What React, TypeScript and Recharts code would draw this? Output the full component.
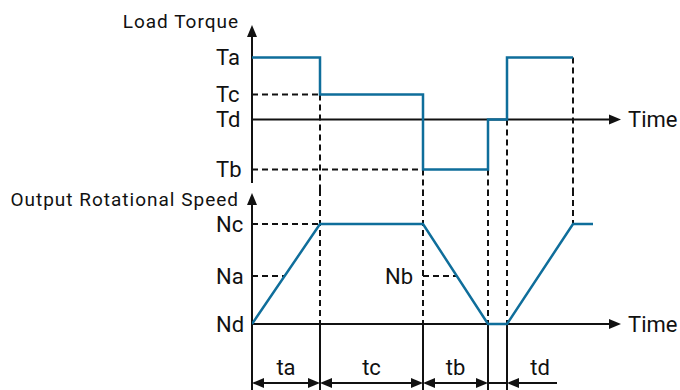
import { LineChart, Line, XAxis, YAxis, ReferenceLine } from 'recharts';

const BLUE = '#0f6e9b';
const INK = '#111111';
const FONT = 'Roboto, sans-serif';

// time marks, shared by both panels
const edges = [0, 68, 171, 236, 255, 321];
const periodNames = ['ta', 'tc', 'tb', 'td'];
const periodSpans = [[0, 68], [68, 171], [171, 236], [255, 321]];

// load torque (step profile)
const torqueNames = ['Ta', 'Tc', 'Td', 'Tb'];
const torqueLevels = [62, 25, 0, -50];
const torqueTimes = [0, 68, 171, 236, 255, 321];
const torqueValues = [62, 25, -50, 0, 62, 62];

// output rotational speed (trapezoid profile)
const speedNames = ['Nc', 'Na', 'Nd'];
const speedLevels = [100, 48, 0];
const speedTimes = [0, 68, 171, 236, 255, 321, 341];
const speedValues = [0, 100, 100, 0, 0, 100, 100];
const nbLevel = 48;

const torqueData = torqueTimes.map((t, i) => ({ t, T: torqueValues[i] }));
const speedData = speedTimes.map((t, i) => ({ t, N: speedValues[i] }));

const [Ta, Tc, Td, Tb] = torqueLevels;
const [Nc, Na, Nd] = speedLevels;

// where the speed ramp between points i and i+1 reaches a level
function crossAt(level: number, i: number) {
  const t0 = speedTimes[i], t1 = speedTimes[i + 1];
  const v0 = speedValues[i], v1 = speedValues[i + 1];
  return t0 + ((level - v0) / (v1 - v0)) * (t1 - t0);
}

const X_DOMAIN = [0, 428];
const T_DOMAIN = [-70.5, 119.5];
const N_DOMAIN = [-66, 144];
const N_SPLIT = 134; // where the lower panel meets the upper one
const TIME_TIP = 369;
const DIM_ROW = -59;

function arrowShape(opts: { head1?: boolean; head2?: boolean; title?: string; titleDy?: number }) {
  return (p: any) => {
    const { x1, y1, x2, y2 } = p;
    const len = 12;
    const half = 5;
    const dx = x2 - x1;
    const dy = y2 - y1;
    const d = Math.hypot(dx, dy) || 1;
    const ux = dx / d;
    const uy = dy / d;
    const head = (tx: number, ty: number, sx: number, sy: number) => {
      const bx = tx - sx * len;
      const by = ty - sy * len;
      return `${tx},${ty} ${bx - sy * half},${by + sx * half} ${bx + sy * half},${by - sx * half}`;
    };
    const ax1 = opts.head1 ? x1 + ux * (len - 1) : x1;
    const ay1 = opts.head1 ? y1 + uy * (len - 1) : y1;
    const ax2 = opts.head2 ? x2 - ux * (len - 1) : x2;
    const ay2 = opts.head2 ? y2 - uy * (len - 1) : y2;
    return (
      <g>
        <line x1={ax1} y1={ay1} x2={ax2} y2={ay2} stroke={INK} strokeWidth={2} />
        {opts.head1 && <polygon points={head(x1, y1, -ux, -uy)} fill={INK} />}
        {opts.head2 && <polygon points={head(x2, y2, ux, uy)} fill={INK} />}
        {opts.title && (
          <text
            x={x2 - 13}
            y={y2 + (opts.titleDy || 0)}
            textAnchor="end"
            fontSize={19}
            letterSpacing={1}
            fontFamily={FONT}
            fill={INK}
          >
            {opts.title}
          </text>
        )}
      </g>
    );
  };
}

const dashed = { stroke: INK, strokeWidth: 2, strokeDasharray: '6 4', ifOverflow: 'visible' as const };
const solid = { stroke: INK, strokeWidth: 2, ifOverflow: 'visible' as const };
const bigText = { fontSize: 22, fill: INK, fontFamily: FONT };
const timeLabel = { value: 'Time', position: 'right' as const, offset: 7, ...bigText };

const yTick = (names: string[], levels: number[]) => ({
  ticks: levels,
  tickFormatter: (v: number) => names[levels.indexOf(v)],
  axisLine: false,
  tickLine: false,
  tickSize: 0,
  tickMargin: 36,
  interval: 0 as const,
  tick: { textAnchor: 'start', ...bigText },
});

export default function App() {
  return (
    <div style={{ position: 'absolute', left: 0, top: 0, width: 680, height: 390, background: '#fff' }}>
      <div style={{ position: 'absolute', left: 0, top: 0 }}>
        <LineChart width={680} height={190} data={torqueData} margin={{ top: 0, right: 0, bottom: 0, left: 0 }}>
          <XAxis type="number" dataKey="t" domain={X_DOMAIN} allowDataOverflow hide />
          <YAxis type="number" width={252} domain={T_DOMAIN} allowDataOverflow {...yTick(torqueNames, torqueLevels)} />
          <ReferenceLine segment={[{ x: 0, y: Tc }, { x: edges[1], y: Tc }]} {...dashed} />
          <ReferenceLine segment={[{ x: 0, y: Tb }, { x: edges[2], y: Tb }]} {...dashed} />
          <ReferenceLine segment={[{ x: edges[1], y: Tc }, { x: edges[1], y: T_DOMAIN[0] }]} {...dashed} />
          <ReferenceLine segment={[{ x: edges[2], y: Tb }, { x: edges[2], y: T_DOMAIN[0] }]} {...dashed} />
          <ReferenceLine segment={[{ x: edges[3], y: Tb }, { x: edges[3], y: T_DOMAIN[0] }]} {...dashed} />
          <ReferenceLine segment={[{ x: edges[4], y: Td }, { x: edges[4], y: T_DOMAIN[0] }]} {...dashed} />
          <ReferenceLine segment={[{ x: edges[5], y: Ta }, { x: edges[5], y: T_DOMAIN[0] }]} {...dashed} />
          <ReferenceLine
            segment={[{ x: 0, y: -63.5 }, { x: 0, y: 94.5 }]}
            {...solid}
            shape={arrowShape({ head2: true, title: 'Load Torque', titleDy: 3 })}
          />
          <ReferenceLine
            segment={[{ x: 0, y: Td }, { x: TIME_TIP, y: Td }]}
            {...solid}
            shape={arrowShape({ head2: true })}
            label={timeLabel}
          />
          <Line
            dataKey="T"
            type="stepAfter"
            stroke={BLUE}
            strokeWidth={2.5}
            dot={false}
            activeDot={false}
            isAnimationActive={false}
          />
        </LineChart>
      </div>
      <div style={{ position: 'absolute', left: 0, top: 180 }}>
        <LineChart width={680} height={210} data={speedData} margin={{ top: 0, right: 0, bottom: 0, left: 0 }}>
          <XAxis type="number" dataKey="t" domain={X_DOMAIN} allowDataOverflow hide />
          <YAxis type="number" width={252} domain={N_DOMAIN} allowDataOverflow {...yTick(speedNames, speedLevels)} />
          <ReferenceLine segment={[{ x: 0, y: Nc }, { x: edges[1], y: Nc }]} {...dashed} />
          <ReferenceLine segment={[{ x: 0, y: Na }, { x: crossAt(Na, 0), y: Na }]} {...dashed} />
          <ReferenceLine
            segment={[{ x: edges[2], y: nbLevel }, { x: crossAt(nbLevel, 2), y: nbLevel }]}
            {...dashed}
            label={{ value: 'Nb', position: 'left', offset: 10, ...bigText }}
          />
          {edges.slice(1, 5).map((e) => (
            <ReferenceLine key={`d${e}`} segment={[{ x: e, y: N_SPLIT }, { x: e, y: Nd }]} {...dashed} />
          ))}
          <ReferenceLine segment={[{ x: edges[5], y: N_SPLIT }, { x: edges[5], y: Nc }]} {...dashed} />
          {edges.slice(1, 5).map((e) => (
            <ReferenceLine key={`s${e}`} segment={[{ x: e, y: Nd }, { x: e, y: N_DOMAIN[0] }]} {...solid} />
          ))}
          <ReferenceLine
            segment={[{ x: 0, y: N_DOMAIN[0] }, { x: 0, y: 131 }]}
            {...solid}
            shape={arrowShape({ head2: true, title: 'Output Rotational Speed', titleDy: 13 })}
          />
          <ReferenceLine
            segment={[{ x: 0, y: Nd }, { x: TIME_TIP, y: Nd }]}
            {...solid}
            shape={arrowShape({ head2: true })}
            label={timeLabel}
          />
          {periodSpans.slice(0, 3).map(([a, b], i) => (
            <ReferenceLine
              key={periodNames[i]}
              segment={[{ x: a, y: DIM_ROW }, { x: b, y: DIM_ROW }]}
              {...solid}
              shape={arrowShape({ head1: true, head2: true })}
              label={{ value: periodNames[i], position: 'top', offset: 8, ...bigText }}
            />
          ))}
          <ReferenceLine segment={[{ x: edges[3], y: DIM_ROW }, { x: edges[4], y: DIM_ROW }]} {...solid} />
          <ReferenceLine
            segment={[{ x: edges[4], y: DIM_ROW }, { x: 305, y: DIM_ROW }]}
            {...solid}
            shape={arrowShape({ head1: true })}
          />
          <ReferenceLine
            segment={[{ x: periodSpans[3][0], y: DIM_ROW }, { x: periodSpans[3][1], y: DIM_ROW }]}
            stroke="none"
            ifOverflow="visible"
            label={{ value: periodNames[3], position: 'top', offset: 8, ...bigText }}
          />
          <Line
            dataKey="N"
            type="linear"
            stroke={BLUE}
            strokeWidth={2.5}
            dot={false}
            activeDot={false}
            isAnimationActive={false}
          />
        </LineChart>
      </div>
    </div>
  );
}
